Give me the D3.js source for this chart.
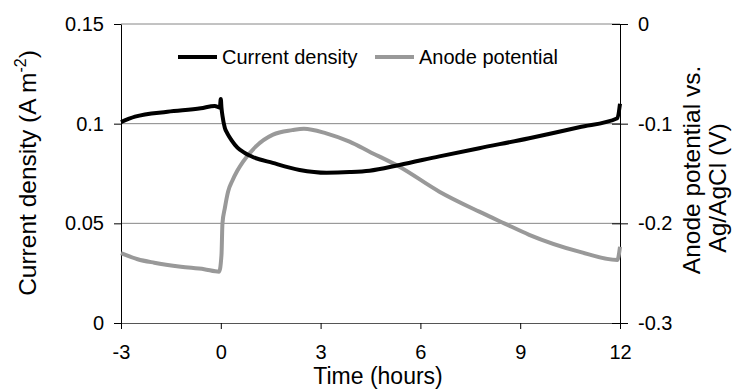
<!DOCTYPE html>
<html>
<head>
<meta charset="utf-8">
<script src="https://cdn.jsdelivr.net/npm/d3@7/dist/d3.min.js"></script>
<style>
  body { margin: 0; background: #fff; }
  svg { display: block; font-family: "Liberation Sans", Arial, sans-serif; }
</style>
</head>
<body>
<svg id="chart" width="740" height="390"></svg>
<script>
// Current density (left axis), time in hours
const currentTime = [-3, -2.58, -1.6, -0.6, -0.18, -0.03, 0, 0.02, 0.05, 0.12, 0.2, 0.32, 0.5, 0.72, 0.96, 1.56, 2.37, 3.18, 3.87, 4.47, 5.37, 6.57, 7.77, 9.27, 10.77, 11.92, 12];
const currentDensity = [0.1008, 0.1035, 0.106, 0.1077, 0.1089, 0.108, 0.1124, 0.108, 0.104, 0.098, 0.095, 0.0918, 0.088, 0.0853, 0.0833, 0.0803, 0.0768, 0.0754, 0.0757, 0.0764, 0.0793, 0.0836, 0.0877, 0.0927, 0.0982, 0.1027, 0.110];

// Anode potential (right axis)
const potentialTime = [-3, -2.5, -2, -1.2, -0.5, -0.05, 0.02, 0.05, 0.12, 0.22, 0.35, 0.5, 0.67, 1.05, 1.57, 2.15, 2.5, 3.17, 3.87, 4.47, 5.37, 6.57, 7.77, 8.52, 9.27, 10.77, 11.92, 12];
const anodePotential = [-0.230, -0.236, -0.2395, -0.2435, -0.246, -0.2485, -0.232, -0.2, -0.185, -0.168, -0.157, -0.147, -0.138, -0.123, -0.111, -0.1065, -0.105, -0.1097, -0.1181, -0.1281, -0.1432, -0.1682, -0.1883, -0.2, -0.2115, -0.2284, -0.2368, -0.2234];

const xTicks = [-3, 0, 3, 6, 9, 12];
const xLabels = ['-3', '0', '3', '6', '9', '12'];
const leftTicks = [0, 0.05, 0.1, 0.15];
const leftLabels = ['0', '0.05', '0.1', '0.15'];
const rightTicks = [-0.3, -0.2, -0.1, 0];
const rightLabels = ['-0.3', '-0.2', '-0.1', '0'];

const plot = { left: 121, right: 620, top: 24, bottom: 323 };

const svg = d3.select('#chart');

const x = d3.scaleLinear().domain([-3, 12]).range([plot.left, plot.right]);
const yLeft = d3.scaleLinear().domain([0, 0.15]).range([plot.bottom, plot.top]);
const yRight = d3.scaleLinear().domain([-0.3, 0]).range([plot.bottom, plot.top]);

// Gridlines
svg.append('g')
  .selectAll('line')
  .data(leftTicks.filter(d => d > 0))
  .join('line')
  .attr('x1', plot.left)
  .attr('x2', plot.right)
  .attr('y1', d => yLeft(d))
  .attr('y2', d => yLeft(d))
  .attr('stroke', '#868686')
  .attr('stroke-width', 1);

// Axes
const xAxis = svg.append('g')
  .attr('transform', `translate(0, ${plot.bottom})`)
  .call(d3.axisBottom(x).tickValues(xTicks).tickFormat((d, i) => xLabels[i])
    .tickSize(6).tickPadding(16).tickSizeOuter(0));
xAxis.select('.domain').attr('stroke', '#555');

const leftAxis = svg.append('g')
  .attr('transform', `translate(${plot.left}, 0)`)
  .call(d3.axisLeft(yLeft).tickValues(leftTicks).tickFormat((d, i) => leftLabels[i])
    .tickSize(7).tickPadding(10).tickSizeOuter(0));

const rightAxis = svg.append('g')
  .attr('transform', `translate(${plot.right}, 0)`)
  .call(d3.axisRight(yRight).tickValues(rightTicks).tickFormat((d, i) => rightLabels[i])
    .tickSize(8).tickPadding(10).tickSizeOuter(0));
rightAxis.selectAll('.tick line').attr('x1', -8);

svg.selectAll('.tick text')
  .attr('font-size', 20)
  .attr('font-family', '"Liberation Sans", Arial, sans-serif')
  .attr('fill', '#000');

// Series
const lineGen = d3.line().curve(d3.curveMonotoneX);

svg.append('path')
  .datum(potentialTime.map((t, i) => [x(t), yRight(anodePotential[i])]))
  .attr('d', lineGen)
  .attr('fill', 'none')
  .attr('stroke', '#999999')
  .attr('stroke-width', 4)
  .attr('stroke-linejoin', 'round');

svg.append('path')
  .datum(currentTime.map((t, i) => [x(t), yLeft(currentDensity[i])]))
  .attr('d', lineGen)
  .attr('fill', 'none')
  .attr('stroke', '#000')
  .attr('stroke-width', 4)
  .attr('stroke-linejoin', 'round');

// Legend
const legendItems = [
  { name: 'Current density', color: '#000', x: 178 },
  { name: 'Anode potential', color: '#999999', x: 375 }
];
const legend = svg.append('g').selectAll('g').data(legendItems).join('g')
  .attr('transform', d => `translate(${d.x}, 57)`);
legend.append('line')
  .attr('x1', 0).attr('x2', 39)
  .attr('stroke', d => d.color)
  .attr('stroke-width', 4);
legend.append('text')
  .attr('x', 44)
  .attr('dy', '0.35em')
  .attr('font-size', 20)
  .text(d => d.name);

// Axis titles
svg.append('text')
  .attr('x', 378)
  .attr('y', 384)
  .attr('text-anchor', 'middle')
  .attr('font-size', 23)
  .text('Time (hours)');

const leftTitle = svg.append('text')
  .attr('transform', 'translate(36, 173) rotate(-90)')
  .attr('text-anchor', 'middle')
  .attr('font-size', 24.5);
leftTitle.append('tspan').text('Current density (A m');
leftTitle.append('tspan').attr('dy', -10).attr('font-size', 16).text('-2');
leftTitle.append('tspan').attr('dy', 10).text(')');

svg.append('text')
  .attr('transform', 'translate(700, 170) rotate(-90)')
  .attr('text-anchor', 'middle')
  .attr('font-size', 24.5)
  .text('Anode potential vs.');

svg.append('text')
  .attr('transform', 'translate(726, 188) rotate(-90)')
  .attr('text-anchor', 'middle')
  .attr('font-size', 24.5)
  .text('Ag/AgCl (V)');
</script>
</body>
</html>
